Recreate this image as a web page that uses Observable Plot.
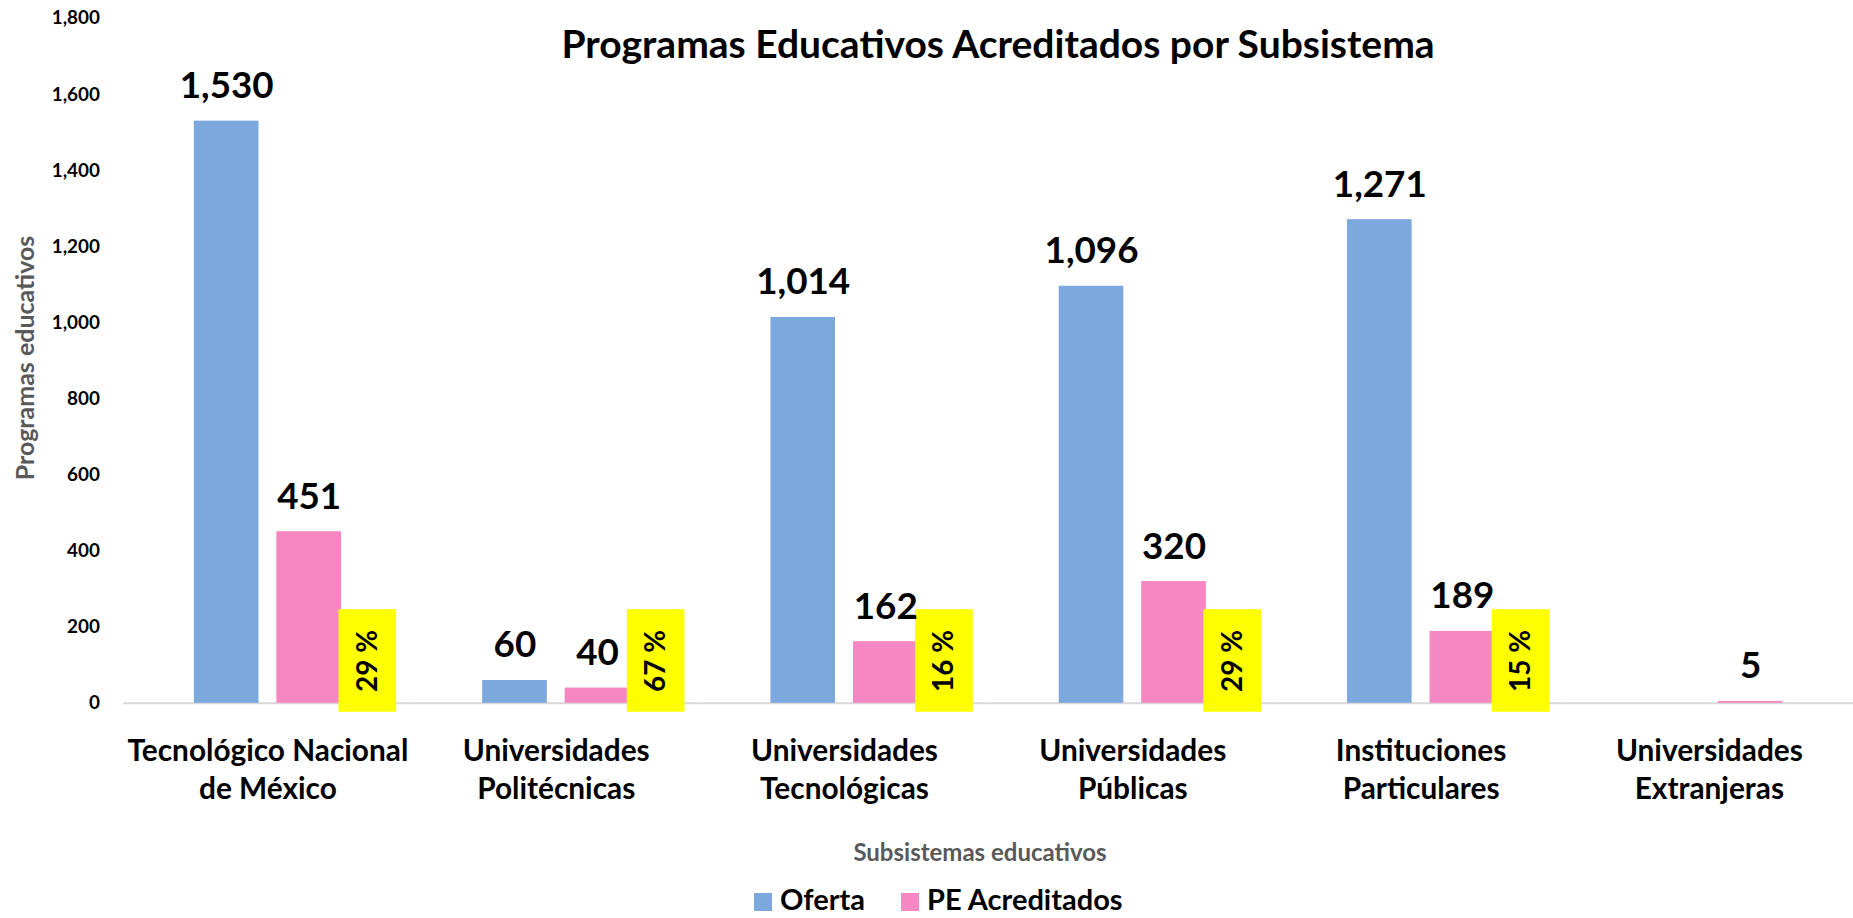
<!DOCTYPE html>
<html>
<head>
<meta charset="utf-8">
<script src="https://cdn.jsdelivr.net/npm/d3@7"></script>
<script src="https://cdn.jsdelivr.net/npm/@observablehq/plot@0.6"></script>
<style>
  html, body { margin: 0; padding: 0; background: #fff; overflow: hidden; }
  #wrap { position: relative; width: 1853px; height: 918px; overflow: hidden; font-family: Lato, "Open Sans", sans-serif; }
  #chart { position: absolute; left: 0; top: 0; }
  .title { position: absolute; left: 998px; top: 43px; transform: translate(-50%, -50%); font-size: 39px; font-weight: 700; color: #000; white-space: nowrap; }
  .ytitle { position: absolute; left: 24px; top: 358px; transform: translate(-50%, -50%) rotate(-90deg); font-size: 25px; font-weight: 700; color: #595959; white-space: nowrap; }
  .xtitle { position: absolute; left: 980px; top: 851px; transform: translate(-50%, -50%); font-size: 24px; font-weight: 700; color: #595959; white-space: nowrap; }
  .legend { position: absolute; left: 754px; top: 884px; display: flex; align-items: flex-start; gap: 36px; font-size: 29px; line-height: 29px; font-weight: 700; color: #000; white-space: nowrap; }
  .legend span.item { display: inline-flex; align-items: flex-start; gap: 8px; }
  .legend i { display: inline-block; width: 18px; height: 18px; margin-top: 9px; }
</style>
</head>
<body>
<div id="wrap">
  <div id="chart"></div>
  <div class="title">Programas Educativos Acreditados por Subsistema</div>
  <div class="ytitle">Programas educativos</div>
  <div class="xtitle">Subsistemas educativos</div>
  <div class="legend" id="legend"></div>
</div>
<script>
// ---- data ----
const categories = [
  "Tecnológico Nacional de México",
  "Universidades Politécnicas",
  "Universidades Tecnológicas",
  "Universidades Públicas",
  "Instituciones Particulares",
  "Universidades Extranjeras"
];
const categoryLabels = [
  "Tecnológico Nacional\nde México",
  "Universidades\nPolitécnicas",
  "Universidades\nTecnológicas",
  "Universidades\nPúblicas",
  "Instituciones\nParticulares",
  "Universidades\nExtranjeras"
];
const series = ["Oferta", "PE Acreditados"];
const oferta = [1530, 60, 1014, 1096, 1271, null];
const acreditados = [451, 40, 162, 320, 189, 5];
const porcentaje = [29, 67, 16, 29, 15, null];
const yTicks = [0, 200, 400, 600, 800, 1000, 1200, 1400, 1600, 1800];
const colors = ["#7CA8DD", "#F587C2"];

// label box extent (value units) for the yellow percentage tags
const boxTop = 246;
const boxBottom = -23.5;

// ---- tables ----
const rows = categories.flatMap((c, i) => [
  {cat: c, serie: series[0], value: oferta[i]},
  {cat: c, serie: series[1], value: acreditados[i]}
]).filter(d => d.value != null);

const pctRows = categories.map((c, i) => ({cat: c, serie: series[1], pct: porcentaje[i]}))
  .filter(d => d.pct != null);

const labelRows = categories.map((c, i) => ({cat: c, label: categoryLabels[i]}));

const fmt = d3.format(",");

const chart = Plot.plot({
  width: 1864,
  height: 880,
  marginLeft: 124,
  marginRight: 0,
  marginTop: 18,
  marginBottom: 173,
  style: {fontFamily: "Lato, 'Open Sans', sans-serif", background: "transparent"},
  fx: {domain: categories, padding: 0, axis: null, label: null},
  x: {domain: series, paddingInner: 18 / 83, paddingOuter: 0.8554, axis: null, label: null},
  y: {domain: [0, 1800], ticks: yTicks, tickFormat: fmt, tickSize: 0, tickPadding: 24, label: null, fontSize: 19},
  color: {domain: series, range: colors},
  marks: [
    Plot.ruleY([0], {stroke: "#d9d9d9", strokeWidth: 2}),
    Plot.barY(rows, {fx: "cat", x: "serie", y: "value", fill: "serie"}),
    Plot.barY(pctRows, {fx: "cat", x: "serie", y1: boxBottom, y2: boxTop, fill: "#FFFF00", dx: 59, insetLeft: 3.5, insetRight: 3.5}),
    Plot.text(pctRows, {fx: "cat", x: "serie", y: (boxTop + boxBottom) / 2, text: d => d.pct + " %", rotate: -90, dx: 59, fontSize: 28, fontWeight: "bold", fill: "#000"}),
    Plot.text(rows, {fx: "cat", x: "serie", y: "value", text: d => fmt(d.value), dy: -35, fontSize: 37, fontWeight: "bold", fill: "#000"}),
    Plot.text(labelRows, {fx: "cat", frameAnchor: "bottom", text: "label", lineAnchor: "top", dy: 30, lineHeight: 1.3, fontSize: 30, fontWeight: "bold", fill: "#000"})
  ]
});
chart.querySelectorAll("g[aria-label='y-axis tick label'] text, g[aria-label='y-axis'] text").forEach(t => {
  t.style.fontWeight = "bold"; t.style.fontSize = "19px"; t.setAttribute("fill", "#000");
});
document.getElementById("chart").appendChild(chart);

const legend = document.getElementById("legend");
series.forEach((s, i) => {
  const item = document.createElement("span");
  item.className = "item";
  item.innerHTML = `<i style="background:${colors[i]}"></i>${s}`;
  legend.appendChild(item);
});
</script>
</body>
</html>
